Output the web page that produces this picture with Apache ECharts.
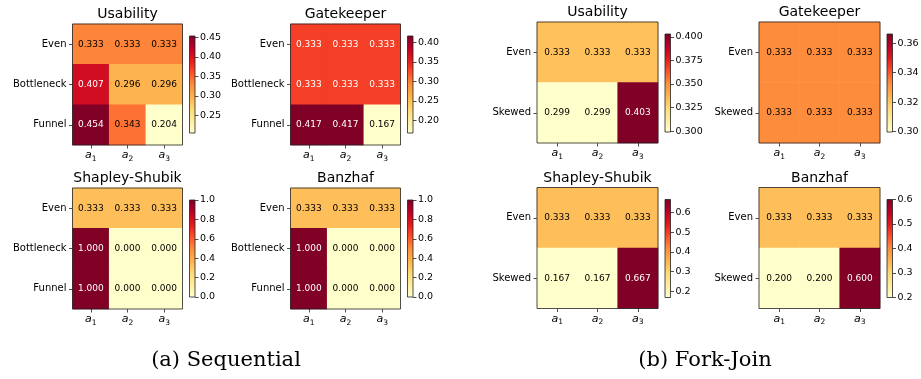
<!DOCTYPE html>
<html>
<head>
<meta charset="utf-8">
<script src="https://cdn.jsdelivr.net/npm/echarts@6/dist/echarts.min.js"></script>
<style>
  html, body { margin: 0; padding: 0; background: #fff; }
  #main { width: 921px; height: 379px; }
</style>
</head>
<body>
<div id="main"></div>
<script>
// categories
var agents = ['a1', 'a2', 'a3'];
var seqRows = ['Even', 'Bottleneck', 'Funnel'];
var fjRows = ['Even', 'Skewed'];

// (a) Sequential  (rows: Even / Bottleneck / Funnel, cols: a1..a3)
var seqUsability = [[0.333, 0.333, 0.333], [0.407, 0.296, 0.296], [0.454, 0.343, 0.204]];
var seqGatekeeper = [[0.333, 0.333, 0.333], [0.333, 0.333, 0.333], [0.417, 0.417, 0.167]];
var seqShapley = [[0.333, 0.333, 0.333], [1.000, 0.000, 0.000], [1.000, 0.000, 0.000]];
var seqBanzhaf = [[0.333, 0.333, 0.333], [1.000, 0.000, 0.000], [1.000, 0.000, 0.000]];

// (b) Fork-Join  (rows: Even / Skewed)
var fjUsability = [[0.333, 0.333, 0.333], [0.299, 0.299, 0.403]];
var fjGatekeeper = [[0.333, 0.333, 0.333], [0.333, 0.333, 0.333]];
var fjShapley = [[0.333, 0.333, 0.333], [0.167, 0.167, 0.667]];
var fjBanzhaf = [[0.333, 0.333, 0.333], [0.200, 0.200, 0.600]];

// colorbar tick labels
var seqUsabilityTicks = ['0.25', '0.30', '0.35', '0.40', '0.45'];
var seqGatekeeperTicks = ['0.20', '0.25', '0.30', '0.35', '0.40'];
var seqShapleyTicks = ['0.0', '0.2', '0.4', '0.6', '0.8', '1.0'];
var seqBanzhafTicks = ['0.0', '0.2', '0.4', '0.6', '0.8', '1.0'];
var fjUsabilityTicks = ['0.300', '0.325', '0.350', '0.375', '0.400'];
var fjGatekeeperTicks = ['0.30', '0.32', '0.34', '0.36'];
var fjShapleyTicks = ['0.2', '0.3', '0.4', '0.5', '0.6'];
var fjBanzhafTicks = ['0.2', '0.3', '0.4', '0.5', '0.6'];

// YlOrRd
var ylorrd = ['#ffffcc', '#ffeda0', '#fed976', '#feb24c', '#fd8d3c', '#fc4e2a', '#e31a1c', '#bd0026', '#800026'];

var FONT = 'DejaVu Sans';

var panels = [
  { title: 'Usability', rows: seqRows, vals: seqUsability, ticks: seqUsabilityTicks, g: 'a', c: 0, r: 0 },
  { title: 'Gatekeeper', rows: seqRows, vals: seqGatekeeper, ticks: seqGatekeeperTicks, g: 'a', c: 1, r: 0 },
  { title: 'Shapley-Shubik', rows: seqRows, vals: seqShapley, ticks: seqShapleyTicks, g: 'a', c: 0, r: 1 },
  { title: 'Banzhaf', rows: seqRows, vals: seqBanzhaf, ticks: seqBanzhafTicks, g: 'a', c: 1, r: 1 },
  { title: 'Usability', rows: fjRows, vals: fjUsability, ticks: fjUsabilityTicks, g: 'b', c: 0, r: 0 },
  { title: 'Gatekeeper', rows: fjRows, vals: fjGatekeeper, ticks: fjGatekeeperTicks, g: 'b', c: 1, r: 0 },
  { title: 'Shapley-Shubik', rows: fjRows, vals: fjShapley, ticks: fjShapleyTicks, g: 'b', c: 0, r: 1 },
  { title: 'Banzhaf', rows: fjRows, vals: fjBanzhaf, ticks: fjBanzhafTicks, g: 'b', c: 1, r: 1 }
];

// layout of each group
var layout = {
  a: { x0: 72.5, y0: 24, dx: 218, dy: 164, w: 110, h: 121, cbDx: 117, cbDy: 12, cbH: 97, titleDy: -10 },
  b: { x0: 537, y0: 22, dx: 222, dy: 165.5, w: 121, h: 121, cbDx: 128, cbDy: 12, cbH: 98, titleDy: -9.5 }
};

var grids = [], xAxes = [], yAxes = [], series = [], visualMaps = [], graphics = [];

panels.forEach(function (p) {
  var L = layout[p.g];
  var gx = L.x0 + p.c * L.dx, gy = L.y0 + p.r * L.dy;
  var flat = [].concat.apply([], p.vals);
  var vmin = Math.min.apply(null, flat), vmax = Math.max.apply(null, flat);
  if (vmin === vmax) { vmin = vmin * 0.9; vmax = vmax * 1.1; }

  // heatmap grid
  var gi = grids.length;
  grids.push({ left: gx, top: gy, width: L.w, height: L.h, show: true, z: 10,
    backgroundColor: 'transparent', borderColor: '#222', borderWidth: 0.8 });
  xAxes.push({
    type: 'category', gridIndex: gi, data: agents, position: 'bottom',
    axisLine: { show: false },
    axisTick: { show: true, alignWithLabel: true, length: 3.5, lineStyle: { color: '#222', width: 0.8 } },
    splitLine: { show: false },
    axisLabel: {
      margin: 3,
      interval: 0,
      hideOverlap: false,
      formatter: function (v) { return '{a|' + v.charAt(0) + '}{s|' + v.slice(1) + '}'; },
      rich: {
        a: { fontFamily: FONT, fontStyle: 'italic', fontSize: 11, color: '#000' },
        s: { fontFamily: FONT, fontSize: 7.5, color: '#000', padding: [7, 0, 0, 0], verticalAlign: 'bottom' }
      }
    }
  });
  yAxes.push({
    type: 'category', gridIndex: gi, data: p.rows, inverse: true,
    axisLine: { show: false },
    axisTick: { show: true, alignWithLabel: true, length: 3.5, lineStyle: { color: '#222', width: 0.8 } },
    splitLine: { show: false },
    axisLabel: { margin: 6, interval: 0, fontFamily: FONT, fontSize: 10, color: '#000' }
  });
  var data = [];
  p.vals.forEach(function (row, j) {
    row.forEach(function (v, i) {
      var t = (v - vmin) / (vmax - vmin);
      data.push({ value: [i, j, v], label: { color: t > 0.6 ? '#fff' : '#000' } });
    });
  });
  visualMaps.push({ type: 'continuous', show: false, seriesIndex: series.length,
    min: vmin, max: vmax, inRange: { color: ylorrd } });
  series.push({
    type: 'heatmap', xAxisIndex: gi, yAxisIndex: gi, data: data,
    label: { show: true, fontFamily: FONT, fontSize: 9,
      formatter: function (q) { return q.value[2].toFixed(3); } },
    emphasis: { disabled: true }
  });

  // colorbar grid
  var ci = grids.length;
  var tickNums = p.ticks.map(Number);
  var tickStr = p.ticks;
  grids.push({ left: gx + L.cbDx, top: gy + L.cbDy, width: 5.5, height: L.cbH, show: true, z: 10,
    backgroundColor: 'transparent', borderColor: '#222', borderWidth: 0.8 });
  xAxes.push({ type: 'category', gridIndex: ci, data: ['cb'], show: false });
  yAxes.push({
    type: 'value', gridIndex: ci, min: vmin, max: vmax, position: 'right',
    axisLine: { show: false },
    splitLine: { show: false },
    axisTick: { show: true, length: 3.5, customValues: tickNums, lineStyle: { color: '#222', width: 0.8 } },
    axisLabel: { show: true, margin: 5, customValues: tickNums, fontFamily: FONT, fontSize: 9.5, color: '#000',
      formatter: function (v) {
        var k = 0;
        tickNums.forEach(function (t, idx) { if (Math.abs(t - v) < Math.abs(tickNums[k] - v)) k = idx; });
        return tickStr[k];
      } }
  });
  series.push({
    type: 'custom', xAxisIndex: ci, yAxisIndex: ci, data: [[0, vmin, vmax]],
    silent: true,
    renderItem: function (params, api) {
      var top = api.coord([0, api.value(2)])[1];
      var bot = api.coord([0, api.value(1)])[1];
      var cs = params.coordSys;
      return {
        type: 'rect',
        shape: { x: cs.x, y: top, width: cs.width, height: bot - top },
        style: {
          fill: new echarts.graphic.LinearGradient(0, 1, 0, 0, ylorrd.map(function (c, k) {
            return { offset: k / (ylorrd.length - 1), color: c };
          }))
        }
      };
    }
  });

  // panel title
  graphics.push({ type: 'text', x: gx + L.w / 2, y: gy + L.titleDy,
    style: { text: p.title, fontFamily: FONT, fontSize: 14, fill: '#000', align: 'center', verticalAlign: 'middle' } });
});

// group captions
graphics.push({ type: 'text', x: 226, y: 361,
  style: { text: '(a) Sequential', fontFamily: 'DejaVu Serif', fontSize: 21, fill: '#000', align: 'center', verticalAlign: 'middle' } });
graphics.push({ type: 'text', x: 705, y: 361,
  style: { text: '(b) Fork-Join', fontFamily: 'DejaVu Serif', fontSize: 21, fill: '#000', align: 'center', verticalAlign: 'middle' } });

var myChart = echarts.init(document.getElementById('main'), null, { renderer: 'canvas' });
myChart.setOption({
  animation: false,
  backgroundColor: '#fff',
  grid: grids.map(function (g) { g.outerBoundsMode = 'none'; g.containLabel = false; return g; }),
  xAxis: xAxes,
  yAxis: yAxes,
  visualMap: visualMaps,
  series: series,
  graphic: graphics
});
</script>
</body>
</html>
